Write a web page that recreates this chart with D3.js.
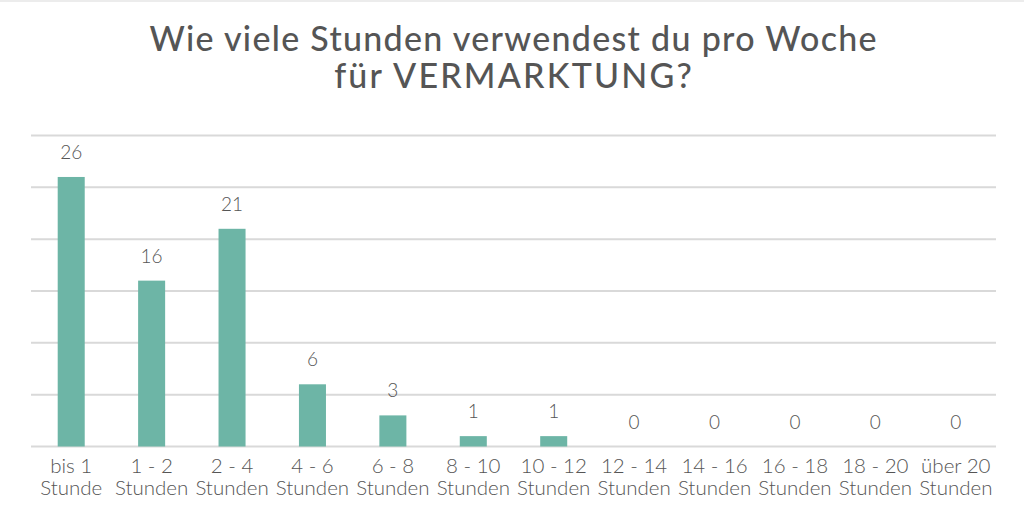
<!DOCTYPE html>
<html><head><meta charset="utf-8">
<script src="https://cdn.jsdelivr.net/npm/d3@7"></script>
<style>
html,body{margin:0;padding:0;background:#fff;}
svg{display:block;}
</style></head>
<body>
<script>
const categories = [
  ["bis 1","Stunde"],["1 - 2","Stunden"],["2 - 4","Stunden"],["4 - 6","Stunden"],
  ["6 - 8","Stunden"],["8 - 10","Stunden"],["10 - 12","Stunden"],["12 - 14","Stunden"],
  ["14 - 16","Stunden"],["16 - 18","Stunden"],["18 - 20","Stunden"],["über 20","Stunden"]
];
const values = [26,16,21,6,3,1,1,0,0,0,0,0];
const yTicks = [0,5,10,15,20,25,30];
const titleLines = ["Wie viele Stunden verwendest du pro Woche","für VERMARKTUNG?"];

const W = 1024, H = 510;
const svg = d3.select("body").append("svg").attr("width", W).attr("height", H);

svg.append("rect").attr("x",0).attr("y",0).attr("width",W).attr("height",2).attr("fill","#ececec");

const x = d3.scaleBand().domain(d3.range(categories.length)).range([31, 996]).paddingInner(0.664).paddingOuter(0.332);
const y = d3.scaleLinear().domain([0,30]).range([446.5, 135.5]);

const g = svg.append("g");
g.selectAll("line.grid").data(yTicks).join("line")
  .attr("x1",31).attr("x2",996)
  .attr("y1",d=>y(d)).attr("y2",d=>y(d))
  .attr("stroke","#d9d9d9").attr("stroke-width",2);

g.selectAll("rect.bar").data(values).join("rect")
  .attr("x",(d,i)=>x(i)).attr("width",x.bandwidth())
  .attr("y",d=>y(d)).attr("height",d=>y(0)-y(d))
  .attr("fill","#6db5a6");

g.selectAll("text.val").data(values).join("text")
  .attr("x",(d,i)=>x(i)+x.bandwidth()/2)
  .attr("y",d=>y(d)-18)
  .attr("text-anchor","middle")
  .attr("font-family","Lato").attr("font-weight",300)
  .attr("font-size",19).attr("fill","#555")
  .text(d=>d);

const lab = g.selectAll("text.cat").data(categories).join("text")
  .attr("text-anchor","middle")
  .attr("font-family","Lato").attr("font-weight",300)
  .attr("font-size",20.5).attr("fill","#555");
lab.selectAll("tspan").data((d,i)=>d.map(t=>({t,i}))).join("tspan")
  .attr("x",d=>x(d.i)+x.bandwidth()/2)
  .attr("y",(d,j)=>473+j*22)
  .text(d=>d.t);

const spacing = [1.3, 2.2];
svg.selectAll("text.title").data(titleLines).join("text")
  .attr("x",(d,i)=>513+spacing[i]/2).attr("y",(d,i)=>51+i*37)
  .attr("text-anchor","middle")
  .attr("font-family","Lato").attr("font-weight",500)
  .attr("font-size",34).attr("fill","#555")
  .attr("letter-spacing",(d,i)=>spacing[i])
  .text(d=>d);
</script>
</body></html>
